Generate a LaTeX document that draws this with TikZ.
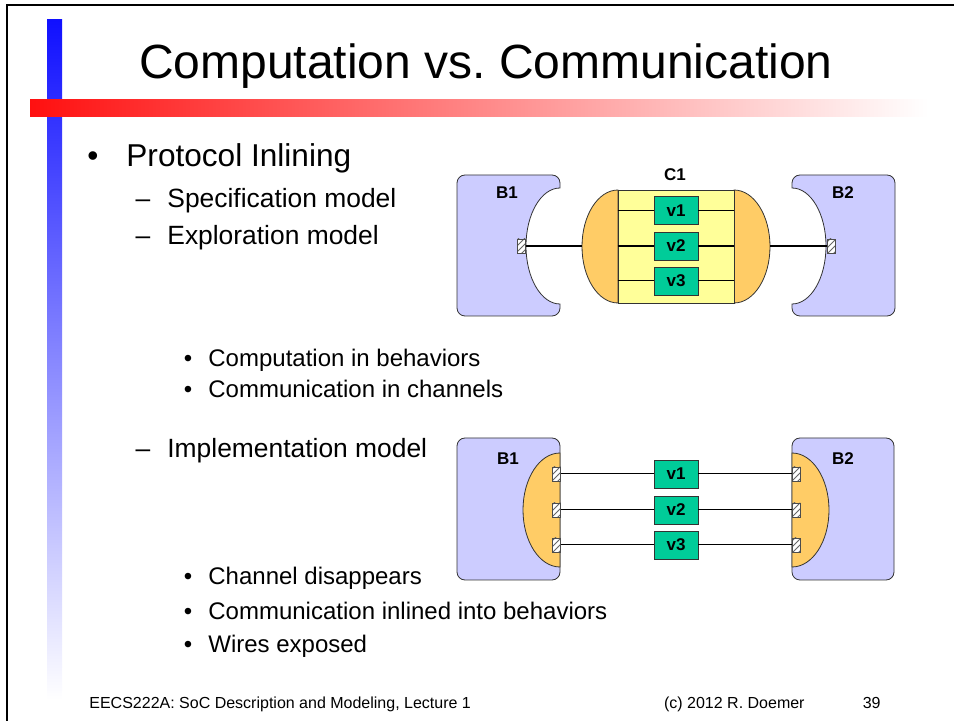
\documentclass[tikz,border=0pt]{standalone}
\usepackage{fontspec}
\setmainfont{Liberation Sans}
\usetikzlibrary{patterns}
\frenchspacing

\definecolor{behblue}{RGB}{204,204,255}
\definecolor{chorange}{RGB}{255,204,102}
\definecolor{chyellow}{RGB}{255,255,153}
\definecolor{vargreen}{RGB}{0,204,153}
\definecolor{barblue}{RGB}{16,16,255}
\definecolor{barred}{RGB}{255,16,16}

\tikzset{
    ttl/.style={font=\fontsize{24}{28}\selectfont, inner sep=0pt},
    lvlone/.style={font=\fontsize{15.8}{19}\selectfont, inner sep=0pt},
    lvltwo/.style={font=\fontsize{13.2}{16}\selectfont, inner sep=0pt},
    lvlthree/.style={font=\fontsize{12}{14}\selectfont, inner sep=0pt},
    foot/.style={font=\fontsize{8}{10}\selectfont, inner sep=0pt},
    lbl/.style={font=\fontsize{8.5}{10}\selectfont\bfseries, inner sep=0pt},
    beh/.style={draw=black!80, fill=behblue},
    chan/.style={draw=black!80, fill=chorange},
    var/.style={draw=black!80, fill=vargreen, minimum width=22pt, minimum height=14pt,
        inner sep=0pt, font=\fontsize{8.5}{10}\selectfont\bfseries},
    port/.style={draw=black!70, minimum width=4pt, minimum height=7pt, inner sep=0pt,
        preaction={fill=white}, pattern=north east lines, pattern color=black!60},
}

\begin{document}
\begin{tikzpicture}[x=0.5pt,y=-0.5pt]
    \useasboundingbox (0,0) rectangle (954,721);
    % slide frame and bars
    \draw[line width=1pt] (7,721) -- (7,5) -- (954,5);
    \shade[top color=barblue, bottom color=white] (47,20) rectangle (62,700);
    \shade[left color=barred, right color=white] (30,100) rectangle (928,117);

    \node[ttl, anchor=base] (title) at (486,79) {Computation vs. Communication};

    % bullet text
    \node[lvlone, anchor=base] (dotA) at (93,167) {•};
    \node[lvlone, anchor=base west] (proto) at (126,167) {Protocol Inlining};
    \foreach \y/\t/\n in {208/Specification model/spec, 245/Exploration model/expl, 458/Implementation model/impl} {
        \node[lvltwo, anchor=base] (dash\n) at (143,\y) {–};
        \node[lvltwo, anchor=base west] (\n) at (167,\y) {\t};
    }
    \foreach \y/\t/\n in {367/Computation in behaviors/a, 398/Communication in channels/b,
            585/Channel disappears/c, 620/Communication inlined into behaviors/d, 653/Wires exposed/e} {
        \node[lvlthree, anchor=base] (dot\n) at (188,\y) {•};
        \node[lvlthree, anchor=base west] (pt\n) at (208,\y) {\t};
    }

    % footer
    \node[foot, anchor=base west] (course) at (89,708) {EECS222A: SoC Description and Modeling, Lecture 1};
    \node[foot, anchor=base east] (copy) at (805,708) {(c) 2012 R. Doemer};
    \node[foot, anchor=base east] (page) at (881,708) {39};

    % exploration model: B1 -- C1 -- B2
    \draw[beh] (560,304) arc[start angle=90, end angle=270, x radius=34, y radius=58]
        [rounded corners=4] -- (560,175) -- (457,175) -- (457,316) -- (560,316) [sharp corners] -- cycle;
    \draw[beh] (792,304) arc[start angle=90, end angle=-90, x radius=34, y radius=58]
        [rounded corners=4] -- (792,175) -- (895,175) -- (895,316) -- (792,316) [sharp corners] -- cycle;
    \node[lbl] (bone) at (507,193) {B1};
    \node[lbl] (btwo) at (843,193) {B2};

    \draw[chan] (618,190) arc[start angle=270, end angle=90, x radius=36, y radius=56.5] -- cycle;
    \draw[chan] (734,190) arc[start angle=-90, end angle=90, x radius=36, y radius=56.5] -- cycle;
    \node[draw=black!80, fill=chyellow, minimum width=58pt, minimum height=56.5pt, inner sep=0pt] (c1) at (676,246.5) {};
    \node[lbl] (cone) at (675,175) {C1};
    \coordinate (c1w) at (582,246);
    \coordinate (c1e) at (770,246);

    \foreach \y/\n/\w in {210.5/1/0.5pt, 246/2/1pt, 281/3/0.5pt} {
        \node[var] (v\n) at (676,\y) {v\n};
        \draw[line width=\w] (c1.west |- v\n) -- (v\n.west);
        \draw[line width=\w] (v\n.east) -- (c1.east |- v\n);
    }

    \node[port] (pone) at (521.5,246) {};
    \node[port] (ptwo) at (831,246) {};
    \draw[line width=1pt] (pone.east) -- (c1w);
    \draw[line width=1pt] (c1e) -- (ptwo.west);

    % implementation model: wires between B1 and B2
    \draw[beh, rounded corners=4] (457,438) rectangle (560,580);
    \draw[beh, rounded corners=4] (792,438) rectangle (894,580);
    \draw[chan] (560,453) arc[start angle=270, end angle=90, x radius=37, y radius=57] -- cycle;
    \draw[chan] (792,453) arc[start angle=-90, end angle=90, x radius=37, y radius=57] -- cycle;
    \node[lbl] (bonei) at (508,459) {B1};
    \node[lbl] (btwoi) at (843,459) {B2};

    \foreach \y/\n in {474/1, 510/2, 545/3} {
        \node[var] (w\n) at (676,\y) {v\n};
        \node[port] (l\n) at (556.5,\y) {};
        \node[port] (r\n) at (796,\y) {};
        \draw[line width=0.5pt] (l\n.east) -- (w\n.west);
        \draw[line width=0.5pt] (w\n.east) -- (r\n.west);
    }
\end{tikzpicture}
\end{document}
